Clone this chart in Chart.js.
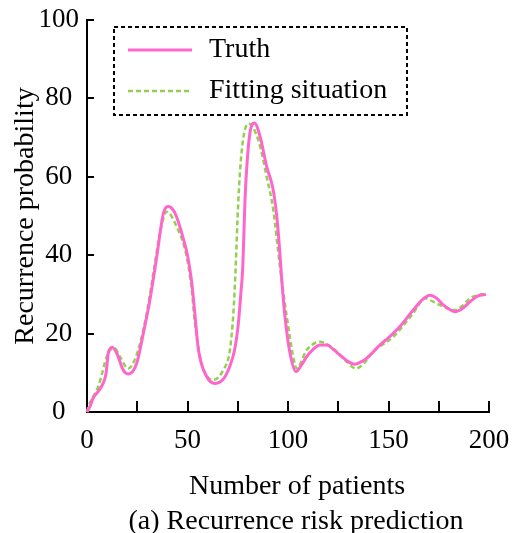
<!DOCTYPE html>
<html>
<head>
<meta charset="utf-8">
<script src="https://cdn.jsdelivr.net/npm/chart.js@4.4.1/dist/chart.umd.min.js"></script>
<style>
  html, body { margin: 0; padding: 0; background: #ffffff; }
  #c { display: block; }
</style>
</head>
<body>
<canvas id="c" width="512" height="533"></canvas>
<script>
// ---- Data ----
const seriesNames = ['Truth', 'Fitting situation'];

const truthX = [0, 1.5, 3, 5.5, 8, 9.5, 10.6, 12.6, 14.8, 18, 20.5, 24.7, 28, 31.3, 34.7, 38, 40.5, 44, 47.5, 50, 52, 53.5, 55.4, 59.6, 63.7, 68, 71, 73.5, 75.3, 76.5, 77.5, 78.6, 79.5, 81, 83.3, 86, 89.4, 92.5, 94.4, 95.6, 97, 98.5, 101, 104, 106.5, 109.3, 112.5, 116, 119.3, 122.5, 125.9, 129.5, 133.3, 136, 139.1, 145.8, 150.5, 155.7, 162.3, 166.5, 170.6, 174, 177.3, 183.1, 187, 190.5, 194.5, 198.5];
const truthY = [0, 1.4, 3.5, 5.2, 7.3, 9.9, 15, 16.5, 15, 10.7, 9.7, 12.4, 20, 28.6, 39.6, 50.7, 52.4, 50.5, 45, 40, 33.5, 26, 16, 9, 7.3, 8.5, 11.6, 16, 22.6, 30, 37, 54, 62.5, 71, 73.7, 70.5, 62.6, 57, 50, 43, 33, 24.3, 15, 10.3, 11.8, 14.1, 16, 17.1, 17.1, 16, 14.5, 13, 12.2, 12.7, 13.7, 17.1, 19.2, 21.8, 26, 28.5, 29.8, 29, 27.3, 25.6, 26.5, 28.1, 29.6, 30];

const fitX = [0, 0.7, 3.1, 5.6, 7.3, 9, 11.4, 13.9, 16.4, 20.5, 23.5, 26.4, 29.7, 33, 36.3, 39.6, 44.6, 49.6, 52.1, 53.7, 57, 62.8, 67.8, 71.1, 72.8, 73.8, 75.3, 77, 80.3, 85.2, 89.4, 92.7, 96, 99.4, 102.6, 104.3, 109.3, 115.9, 122.5, 129.2, 133.8, 137.5, 142.4, 152.4, 162.3, 168.2, 172, 177.3, 183.1, 187, 190.5, 194.5, 198];
const fitY = [0, 1.4, 3.9, 6.5, 9.4, 12.8, 15.8, 16.2, 14.1, 11.1, 13, 17.5, 25.2, 35.4, 45.6, 51.1, 47.3, 39.6, 31.1, 22.6, 12.4, 8.2, 10.7, 15.8, 25, 35, 54, 66.8, 73.6, 69.4, 60, 51.5, 37, 24.3, 14.1, 11.1, 15.8, 17.9, 16.2, 12.8, 11.1, 12.3, 15.4, 19.2, 25.2, 29, 28.2, 26.9, 26, 27.2, 29, 29.8, 30.1];

const xTickLabels = [0, 50, 100, 150, 200];
const yTickLabels = [0, 20, 40, 60, 80, 100];
const xTitle = 'Number of patients';
const yTitle = 'Recurrence probability';
const caption = '(a) Recurrence risk prediction';

// ---- Build ----
const FONT = '"Liberation Serif", "Times New Roman", serif';
const toPts = (xs, ys) => xs.map((x, i) => ({ x: x, y: ys[i] }));

const legendBox = {
  id: 'legendBox',
  afterDatasetsDraw(chart) {
    const ctx = chart.ctx;
    ctx.save();
    ctx.setLineDash([4, 3]);
    ctx.lineWidth = 2;
    ctx.strokeStyle = '#000';
    ctx.strokeRect(114, 27, 293, 88);
    const rows = [50, 91];
    chart.data.datasets.forEach((ds, i) => {
      const y = rows[i];
      ctx.setLineDash(ds.borderDash || []);
      ctx.lineWidth = ds.borderWidth;
      ctx.strokeStyle = ds.borderColor;
      ctx.beginPath();
      ctx.moveTo(128, y);
      ctx.lineTo(192, y);
      ctx.stroke();
      ctx.setLineDash([]);
      ctx.fillStyle = '#000';
      ctx.font = '28px ' + FONT;
      ctx.textAlign = 'left';
      ctx.textBaseline = 'middle';
      ctx.fillText(ds.label, 209, y);
    });
    ctx.restore();
  }
};

const bottomTexts = {
  id: 'bottomTexts',
  afterDraw(chart) {
    const ctx = chart.ctx;
    ctx.save();
    ctx.fillStyle = '#000';
    ctx.font = '28px ' + FONT;
    ctx.textAlign = 'center';
    ctx.textBaseline = 'alphabetic';
    ctx.fillText(xTitle, 297, 494);
    ctx.fillText(caption, 296, 529);
    ctx.restore();
  }
};

new Chart(document.getElementById('c'), {
  type: 'line',
  data: {
    datasets: [
      {
        label: seriesNames[0],
        data: toPts(truthX, truthY),
        borderColor: '#FF66CC',
        borderWidth: 3,
        pointRadius: 0,
        fill: false,
        tension: 0.4,
        cubicInterpolationMode: 'monotone',
        clip: false
      },
      {
        label: seriesNames[1],
        data: toPts(fitX, fitY),
        borderColor: '#92D050',
        borderWidth: 2.5,
        borderDash: [5, 3],
        pointRadius: 0,
        fill: false,
        tension: 0.4,
        cubicInterpolationMode: 'monotone',
        clip: false
      }
    ]
  },
  options: {
    responsive: false,
    animation: false,
    events: [],
    layout: { padding: { top: 20, right: 23, bottom: 0, left: 0 } },
    plugins: {
      legend: { display: false },
      tooltip: { enabled: false },
      title: { display: false }
    },
    scales: {
      x: {
        type: 'linear',
        min: 0,
        max: 200,
        afterFit(s) { s.height = 121; s.paddingLeft = 0; s.paddingRight = 0; },
        afterBuildTicks(s) {
          const t = [];
          for (let v = 0; v <= 200; v += 25) t.push({ value: v });
          s.ticks = t;
        },
        ticks: {
          autoSkip: false,
          maxRotation: 0,
          padding: 24,
          color: '#000',
          font: { family: FONT, size: 27 },
          callback: (v) => xTickLabels.includes(v) ? String(v) : ''
        },
        grid: {
          drawOnChartArea: false,
          drawTicks: true,
          tickLength: -11,
          color: '#000',
          lineWidth: 2
        },
        border: { color: '#000', width: 2 }
      },
      y: {
        min: 0,
        max: 100,
        afterFit(s) { s.width = 87; s.paddingTop = 0; s.paddingBottom = 0; },
        afterBuildTicks(s) { s.ticks = yTickLabels.map(v => ({ value: v })); },
        ticks: {
          crossAlign: 'center',
          padding: 15,
          color: '#000',
          font: { family: FONT, size: 27 },
          callback: (v) => String(v)
        },
        grid: {
          drawOnChartArea: false,
          drawTicks: true,
          tickLength: -7,
          color: '#000',
          lineWidth: 2
        },
        border: { color: '#000', width: 2 },
        title: {
          display: true,
          text: yTitle,
          color: '#000',
          font: { family: FONT, size: 28 },
          padding: { top: 9, bottom: 0 }
        }
      }
    }
  },
  plugins: [legendBox, bottomTexts]
});
</script>
</body>
</html>
